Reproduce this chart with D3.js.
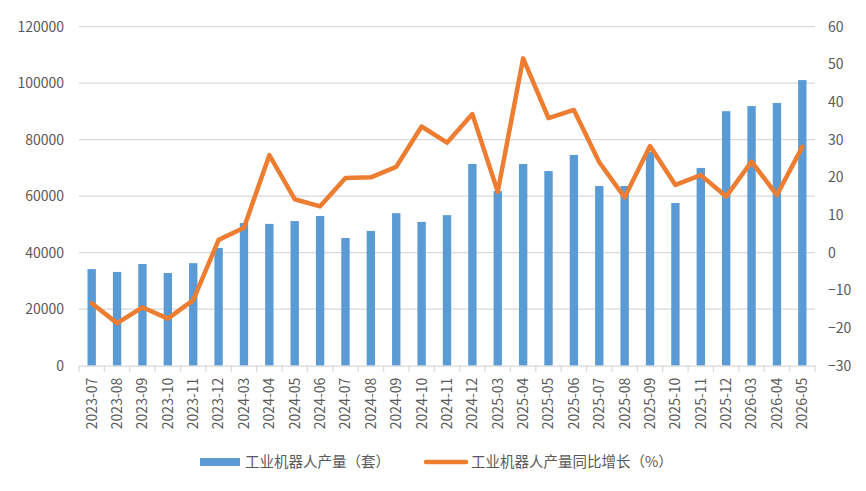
<!DOCTYPE html>
<html lang="zh">
<head>
<meta charset="UTF-8">
<title>工业机器人产量</title>
<script src="https://d3js.org/d3.v7.min.js"></script>
<style>
  body { margin: 0; background: #fff; }
  svg text { font-family: "Noto Sans CJK SC", "Noto Sans", sans-serif; fill: #595959; }
</style>
</head>
<body>
<svg width="866" height="491"></svg>
<script>
// data
var months = ["2023-07","2023-08","2023-09","2023-10","2023-11","2023-12",
  "2024-03","2024-04","2024-05","2024-06","2024-07","2024-08","2024-09","2024-10","2024-11","2024-12",
  "2025-03","2025-04","2025-05","2025-06","2025-07","2025-08","2025-09","2025-10","2025-11","2025-12",
  "2026-03","2026-04","2026-05"];
var output = [34200, 33200, 36000, 32800, 36300, 41700,
  50500, 50200, 51200, 53000, 45200, 47700, 54000, 50900, 53300, 71400,
  61800, 71400, 68900, 74600, 63600, 63600, 75700, 57600, 70000, 90100,
  91900, 93000, 101100];
var growth = [-13.4, -18.7, -14.5, -17.5, -12.6, 3.4,
  6.6, 25.9, 14.2, 12.3, 19.8, 20.0, 22.8, 33.5, 29.2, 36.8,
  16.2, 51.6, 35.7, 37.9, 24.0, 14.7, 28.3, 18.0, 20.6, 14.9,
  24.2, 15.3, 28.1];
var leftTicks = [0, 20000, 40000, 60000, 80000, 100000, 120000];
var rightTicks = [-30, -20, -10, 0, 10, 20, 30, 40, 50, 60];
var legendNames = ["工业机器人产量（套）", "工业机器人产量同比增长（%）"];

var svg = d3.select("svg");
var plotL = 79, plotR = 815, plotT = 26.7, plotB = 365.7;

var x = d3.scaleBand().domain(months).range([plotL, plotR]).paddingInner(0.67).paddingOuter(0.335);
var xb = d3.scaleBand().domain(months).range([plotL, plotR]);
var y = d3.scaleLinear().domain([0, 120000]).range([plotB, plotT]);
var y2 = d3.scaleLinear().domain([-30, 60]).range([plotB, plotT]);

// gridlines
svg.append("g").selectAll("line").data(leftTicks.slice(1)).join("line")
  .attr("x1", plotL).attr("x2", plotR)
  .attr("y1", d => y(d)).attr("y2", d => y(d))
  .attr("stroke", "#d9d9d9").attr("stroke-width", 1.3);

// left axis
var gl = svg.append("g").attr("transform", "translate(" + plotL + ",0)")
  .call(d3.axisLeft(y).tickValues(leftTicks).tickSize(0).tickPadding(15).tickFormat(d3.format("d")));
gl.select(".domain").remove();
gl.selectAll("text").style("font-size", "14px").attr("fill", "#595959");

// right axis
var gr = svg.append("g").attr("transform", "translate(" + plotR + ",0)")
  .call(d3.axisRight(y2).tickValues(rightTicks).tickSize(0).tickPadding(13));
gr.select(".domain").remove();
gr.selectAll("text").style("font-size", "14px").attr("fill", "#595959");

// bars
svg.append("g").selectAll("rect").data(output).join("rect")
  .attr("x", (d, i) => x(months[i]))
  .attr("width", x.bandwidth())
  .attr("y", d => y(d))
  .attr("height", d => y(0) - y(d))
  .attr("fill", "#5b9bd5");

// x axis
var gx = svg.append("g").attr("transform", "translate(0," + plotB + ")")
  .call(d3.axisBottom(xb).tickSize(0).tickPadding(0));
gx.select(".domain").attr("stroke", "#d9d9d9").attr("stroke-width", 1.3);
gx.selectAll("text")
  .style("font-size", "14px").attr("fill", "#595959")
  .attr("transform", "rotate(-90)")
  .attr("text-anchor", "end")
  .attr("dy", "0.35em")
  .attr("x", -12).attr("y", 0);
svg.append("g").selectAll("line").data(months.concat(["end"])).join("line")
  .attr("x1", (d, i) => plotL + i * xb.step()).attr("x2", (d, i) => plotL + i * xb.step())
  .attr("y1", plotB).attr("y2", plotB + 6)
  .attr("stroke", "#d9d9d9").attr("stroke-width", 1.3);

// growth line
var line = d3.line().x((d, i) => xb(months[i]) + xb.bandwidth() / 2).y(d => y2(d));
svg.append("path").datum(growth)
  .attr("d", line)
  .attr("fill", "none")
  .attr("stroke", "#ed7d31")
  .attr("stroke-width", 4.5)
  .attr("stroke-linejoin", "round")
  .attr("stroke-linecap", "round");

// legend
var lg = svg.append("g");
lg.append("rect").attr("x", 200).attr("y", 458).attr("width", 40).attr("height", 8).attr("fill", "#5b9bd5");
lg.append("text").attr("x", 245).attr("y", 467).style("font-size", "14.5px").text(legendNames[0]);
lg.append("line").attr("x1", 426).attr("x2", 466).attr("y1", 462).attr("y2", 462)
  .attr("stroke", "#ed7d31").attr("stroke-width", 4.5).attr("stroke-linecap", "round");
lg.append("text").attr("x", 471).attr("y", 467).style("font-size", "14.5px").text(legendNames[1]);
</script>
</body>
</html>
